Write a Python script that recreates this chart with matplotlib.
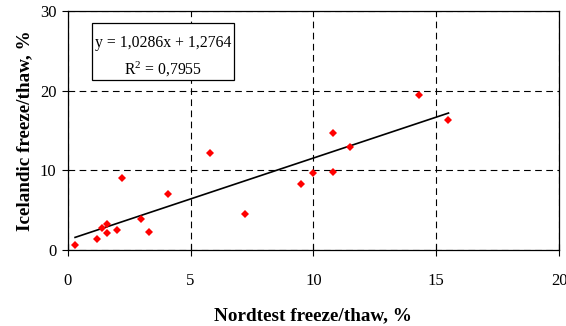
import numpy as np
import matplotlib.pyplot as plt
from matplotlib.patches import Rectangle

plt.rcParams['font.family'] = ['Liberation Serif', 'DejaVu Serif']

# Nordtest vs Icelandic freeze/thaw loss, %
nordtest = [0.3, 1.2, 1.4, 1.6, 1.6, 2.0, 2.2, 3.0, 3.3, 4.1,
            5.8, 7.2, 9.5, 10.0, 10.8, 10.8, 11.5, 14.3, 15.5]
icelandic = [0.65, 1.35, 2.75, 3.25, 2.2, 2.55, 9.1, 3.85, 2.25, 7.0,
             12.2, 4.55, 8.35, 9.65, 14.7, 9.85, 12.95, 19.55, 16.4]

slope = 1.0286
intercept = 1.2764
r2 = 0.7955

fig = plt.figure(figsize=(5.66, 3.26), dpi=100)
ax = fig.add_axes([0.1196, 0.2331, 0.8681, 0.7319])

xl = np.array([min(nordtest), max(nordtest)])
ax.plot(xl, slope * xl + intercept, color='black', lw=1.2, zorder=2)
ax.plot(nordtest, icelandic, 'D', color='#ff0000', markersize=4.2,
        markeredgewidth=0, zorder=3)

ax.set_xlim(0, 20)
ax.set_ylim(0, 30)
ax.set_xticks([0, 5, 10, 15, 20])
ax.set_yticks([0, 10, 20, 30])
ax.grid(True, color='black', linestyle=(0, (6, 4)), lw=0.8)
ax.set_axisbelow(True)
for s in ax.spines.values():
    s.set_linewidth(0.9)
ax.tick_params(axis='x', direction='inout', length=9, pad=12, labelsize=12)
ax.tick_params(axis='y', direction='out', length=4, pad=4, labelsize=12)

ax.set_xlabel('Nordtest freeze/thaw, %', fontsize=13.8, fontweight='bold',
              labelpad=13)
ax.set_ylabel('Icelandic freeze/thaw, %', fontsize=13.8, fontweight='bold',
              labelpad=5)

# equation box
ax.add_patch(Rectangle((0.049, 0.712), 0.2895, 0.239, transform=ax.transAxes,
                       facecolor='white', edgecolor='black', lw=0.9,
                       zorder=4))
eq = 'y = {:.4f}x + {:.4f}'.format(slope, intercept).replace('.', ',')
rt = '$\\mathregular{{R^2}}$ = {:.4f}'.format(r2).replace('.', ',')
ax.text(0.1935, 0.868, eq, transform=ax.transAxes, ha='center', va='center',
        fontsize=11.3, zorder=5)
ax.text(0.1935, 0.755, rt, transform=ax.transAxes, ha='center', va='center',
        fontsize=11.3, zorder=5)

fig.savefig('out.png', dpi=100)
